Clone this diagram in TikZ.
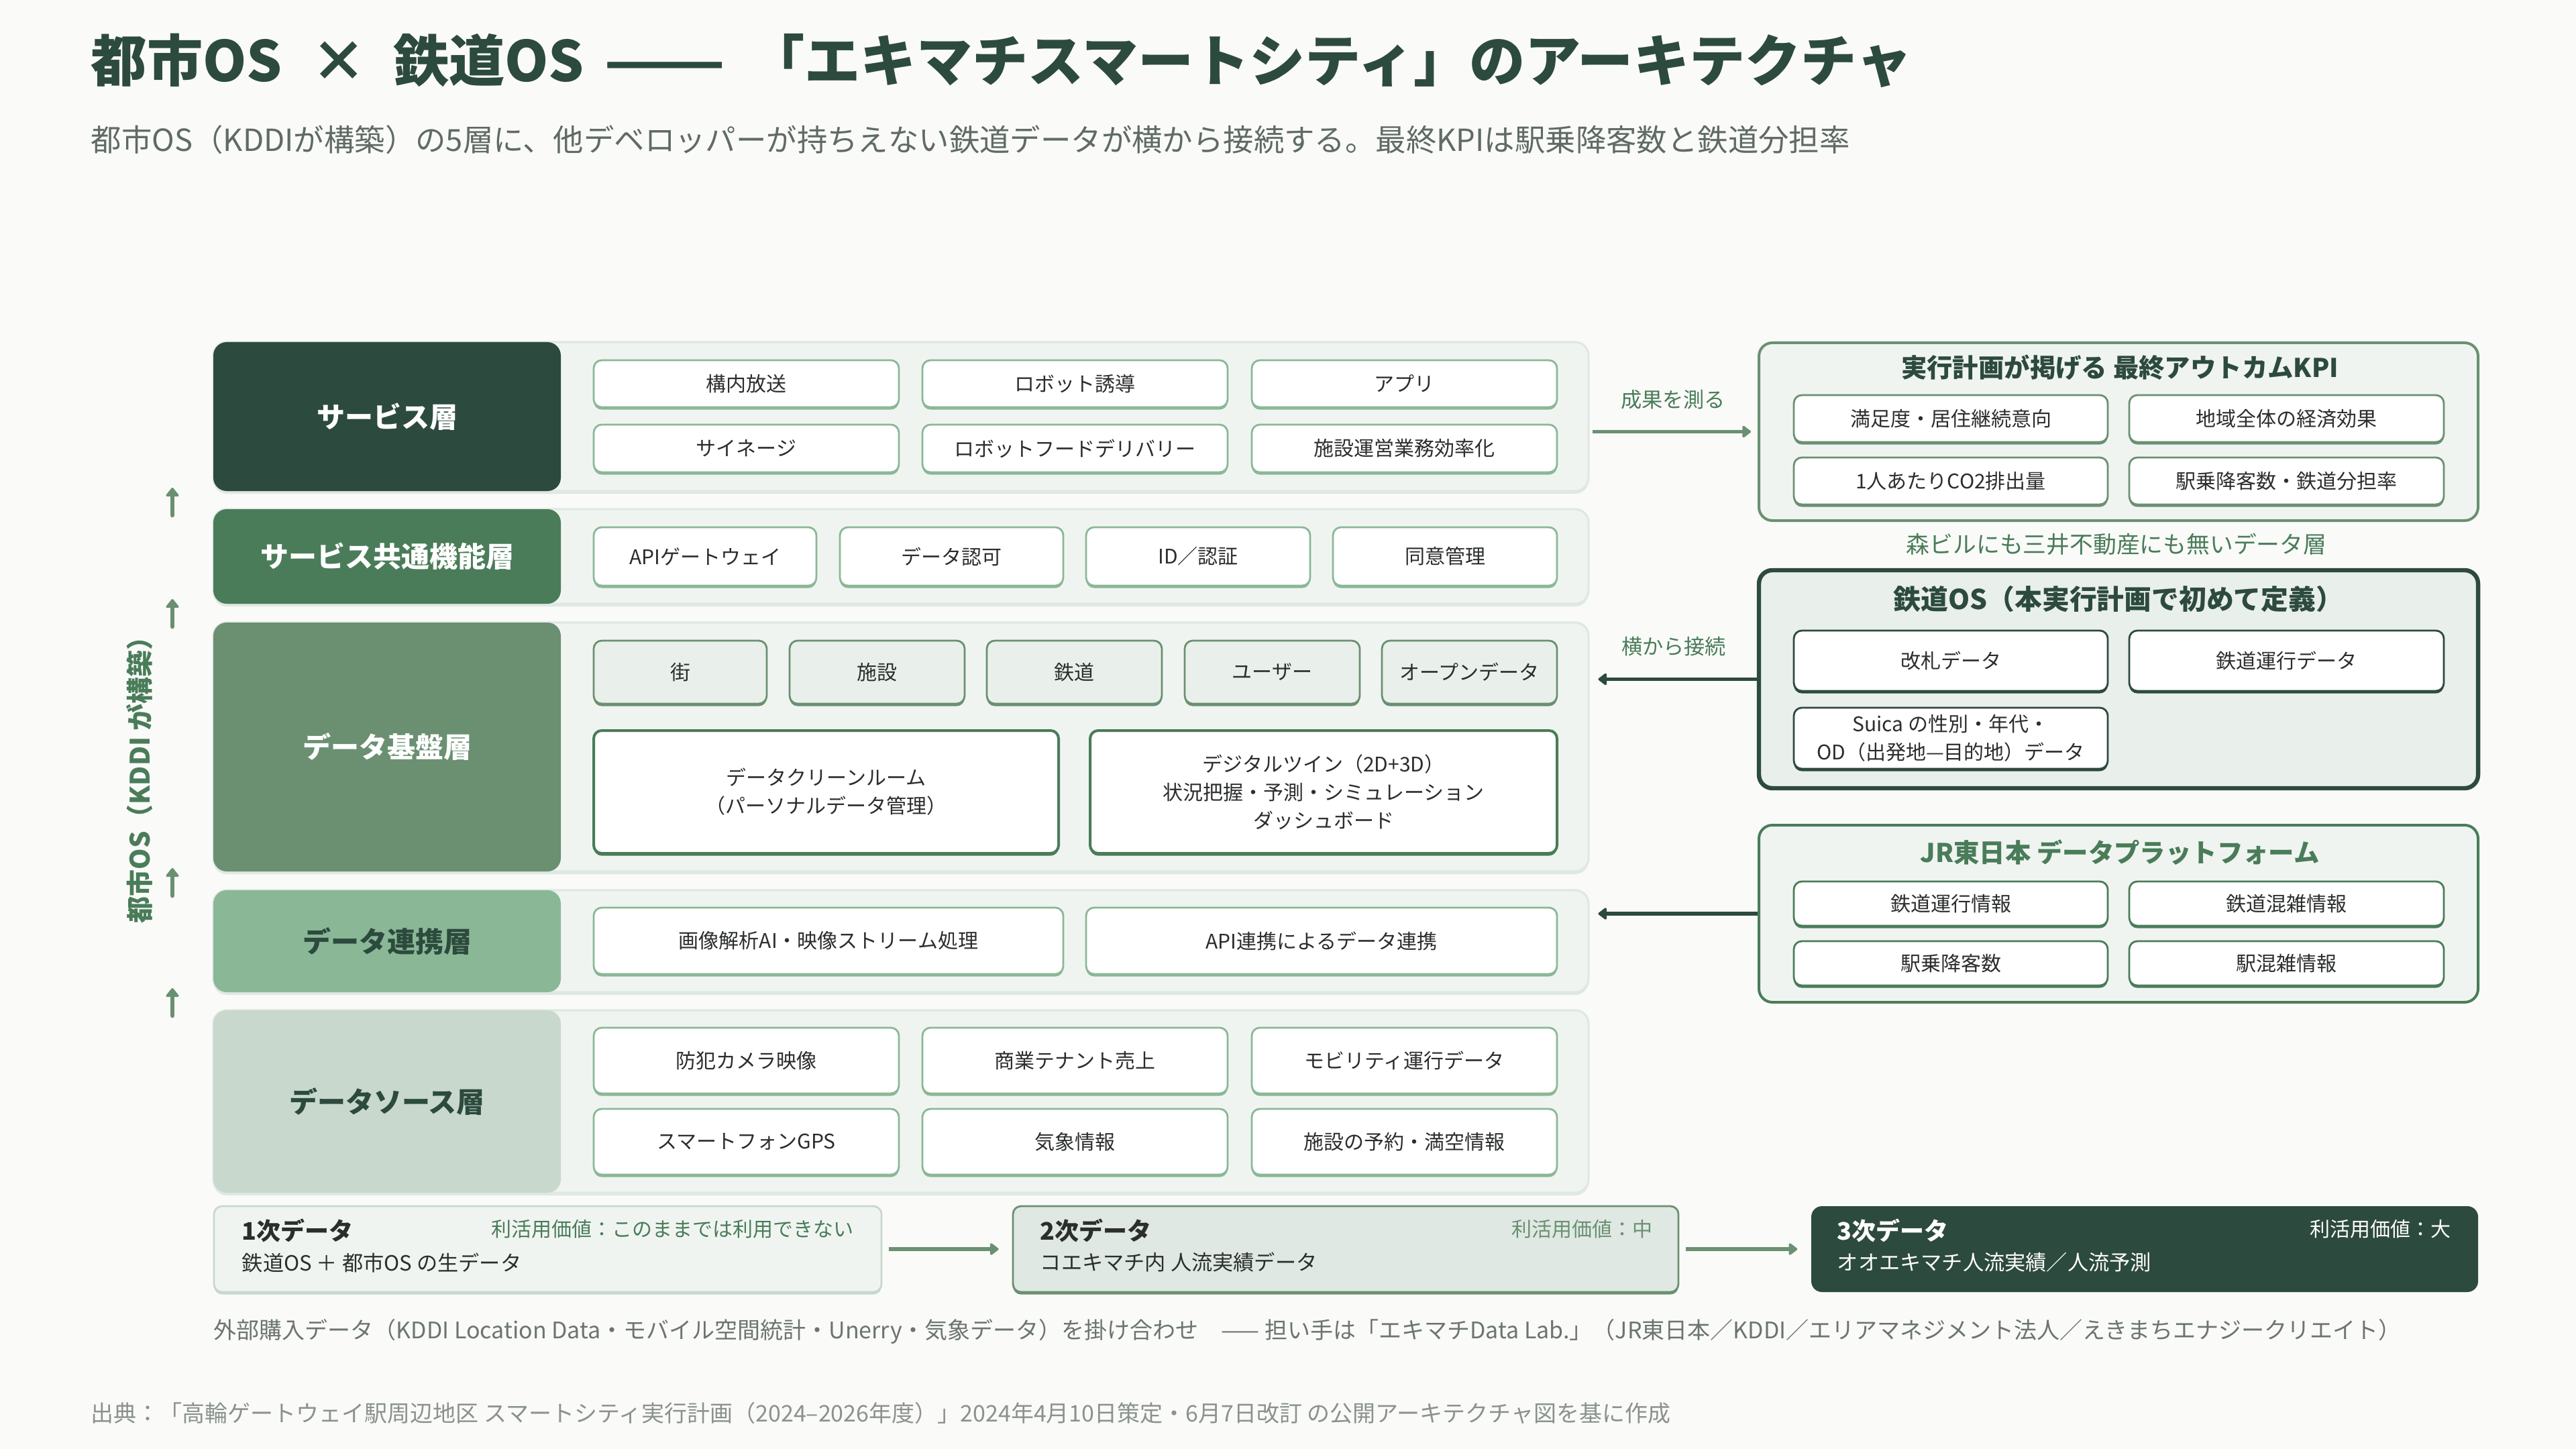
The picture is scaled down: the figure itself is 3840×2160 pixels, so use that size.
\documentclass[tikz,border=0pt]{standalone}
\usepackage{fontspec}
\usepackage{graphicx}
\setmainfont{Noto Sans CJK JP}
\usetikzlibrary{arrows.meta,shadows}
\definecolor{bgc}{HTML}{FAFAF9}
\definecolor{dk}{HTML}{2D4A3E}
\definecolor{md}{HTML}{4A7C59}
\definecolor{mdb}{HTML}{6A9071}
\definecolor{lt}{HTML}{8AB896}
\definecolor{pale}{HTML}{C8D8CC}
\definecolor{cfill}{HTML}{F0F4F1}
\definecolor{cline}{HTML}{DFE8E2}
\definecolor{tfill}{HTML}{E9EFEA}
\definecolor{txt}{HTML}{2B2E2C}
\definecolor{subc}{HTML}{5F6B63}
\definecolor{footc}{HTML}{6B756E}
\definecolor{footd}{HTML}{8A928C}
\newcommand\fsz[2]{\fontsize{#1}{#2}\selectfont}
\newcommand\mybox[7]{\node[#6, minimum width={(#4-#2)*0.25pt}, minimum height={(#5-#3)*0.25pt}] (#1) at ({(#2+#4)/2},{(#3+#5)/2}) {#7};}
\tikzset{
  chipbase/.style={rounded corners=3pt, line width=0.7pt, fill=white, inner sep=1pt, align=center, text=txt, font=\fsz{7.5}{10.5}},
  chipc/.style={chipbase, draw=#1, drop shadow={shadow xshift=0pt, shadow yshift=-0.9pt, fill=#1, opacity=1}},
  layerc/.style={draw=cline, line width=0.8pt, fill=cfill, rounded corners=5pt, drop shadow={shadow xshift=0pt, shadow yshift=-1pt, fill=cline, opacity=1}},
  labelbox/.style={rounded corners=5pt, fill=#1, font=\bfseries\fsz{10.5}{13}, inner sep=0pt},
  panel/.style={rounded corners=5pt, fill=cfill, draw=#1, line width=1pt},
  uparrow/.style={draw=mdb, line width=1.7pt, line cap=round, -{Triangle[width=5.5pt,length=3.6pt,round]}},
  rarrow/.style={draw=mdb, line width=1.3pt, -{Triangle[width=5pt,length=3.5pt,round]}},
  larrow/.style={draw=dk, line width=1.4pt, -{Triangle[width=5pt,length=3.5pt,round]}},
  sidelabel/.style={text=md, font=\fsz{7.8}{10}, inner sep=0pt},
  ptitle/.style={font=\bfseries\fsz{9.6}{12}, inner sep=0pt},
  dtitle/.style={font=\bfseries\fsz{9}{11}, inner sep=0pt, anchor=west},
  dsub/.style={font=\fsz{7.8}{10}, inner sep=0pt, anchor=west},
  dval/.style={font=\fsz{7.5}{10}, inner sep=0pt, anchor=east},
}
\begin{document}
\begin{tikzpicture}[x=0.25pt,y=-0.25pt]
\path[fill=bgc] (0,0) rectangle (3840,2160);
\useasboundingbox (0,0) rectangle (3840,2160);

% title
\node[anchor=west, inner sep=0pt, text=dk, font=\bfseries\fsz{20.8}{24}] (title) at (135,90) {都市OS\hspace{6pt} ×\hspace{5pt} 鉄道OS\hspace{2.5pt} \scalebox{1.27}[1]{——}\hspace{4pt} 「エキマチスマートシティ」のアーキテクチャ};
\node[anchor=west, inner sep=0pt, text=subc, font=\fsz{11.35}{14}] (subtitle) at (135,208) {都市OS（KDDIが構築）の5層に、他デベロッパーが持ちえない鉄道データが横から接続する。最終KPIは駅乗降客数と鉄道分担率};

% layer containers
\mybox{svcC}{318}{510}{2368}{732}{layerc}{}
\mybox{comC}{318}{759}{2368}{900}{layerc}{}
\mybox{baseC}{318}{928}{2368}{1299}{layerc}{}
\mybox{linkC}{318}{1327}{2368}{1479}{layerc}{}
\mybox{srcC}{318}{1506}{2368}{1778}{layerc}{}

% layer labels
\mybox{svcL}{318}{510}{836}{732}{labelbox=dk, text=white}{サービス層}
\mybox{comL}{318}{759}{836}{900}{labelbox=md, text=white}{サービス共通機能層}
\mybox{baseL}{318}{928}{836}{1299}{labelbox=mdb, text=white}{データ基盤層}
\mybox{linkL}{318}{1327}{836}{1479}{labelbox=lt, text=dk}{データ連携層}
\mybox{srcL}{318}{1506}{836}{1778}{labelbox=pale, text=dk}{データソース層}

% service chips
\mybox{s1}{885}{537}{1340}{607}{chipc=lt}{構内放送}
\mybox{s2}{1375}{537}{1830}{607}{chipc=lt}{ロボット誘導}
\mybox{s3}{1866}{537}{2321}{607}{chipc=lt}{アプリ}
\mybox{s4}{885}{633}{1340}{704}{chipc=lt}{サイネージ}
\mybox{s5}{1375}{633}{1830}{704}{chipc=lt}{ロボットフードデリバリー}
\mybox{s6}{1866}{633}{2321}{704}{chipc=lt}{施設運営業務効率化}

% common chips
\mybox{c1}{885}{786}{1217}{873}{chipc=lt}{APIゲートウェイ}
\mybox{c2}{1252}{786}{1585}{873}{chipc=lt}{データ認可}
\mybox{c3}{1619}{786}{1953}{873}{chipc=lt}{ID／認証}
\mybox{c4}{1987}{786}{2321}{873}{chipc=lt}{同意管理}

% base chips
\mybox{b1}{885}{955}{1143}{1049}{chipc=mdb, fill=tfill}{街}
\mybox{b2}{1177}{955}{1438}{1049}{chipc=mdb, fill=tfill}{施設}
\mybox{b3}{1471}{955}{1732}{1049}{chipc=mdb, fill=tfill}{鉄道}
\mybox{b4}{1766}{955}{2027}{1049}{chipc=mdb, fill=tfill}{ユーザー}
\mybox{b5}{2060}{955}{2321}{1049}{chipc=mdb, fill=tfill}{オープンデータ}
\mybox{b6}{885}{1089}{1578}{1272}{chipc=md, line width=1pt}{データクリーンルーム\\（パーソナルデータ管理）}
\mybox{b7}{1625}{1089}{2321}{1272}{chipc=md, line width=1pt}{デジタルツイン（2D+3D）\\状況把握・予測・シミュレーション\\ダッシュボード}

% link chips
\mybox{l1}{885}{1353}{1585}{1452}{chipc=lt}{画像解析AI・映像ストリーム処理}
\mybox{l2}{1619}{1353}{2321}{1452}{chipc=lt}{API連携によるデータ連携}

% source chips
\mybox{r1}{885}{1532}{1340}{1630}{chipc=lt}{防犯カメラ映像}
\mybox{r2}{1375}{1532}{1830}{1630}{chipc=lt}{商業テナント売上}
\mybox{r3}{1866}{1532}{2321}{1630}{chipc=lt}{モビリティ運行データ}
\mybox{r4}{885}{1653}{1340}{1751}{chipc=lt}{スマートフォンGPS}
\mybox{r5}{1375}{1653}{1830}{1751}{chipc=lt}{気象情報}
\mybox{r6}{1866}{1653}{2321}{1751}{chipc=lt}{施設の予約・満空情報}

% vertical label and up arrows
\node[rotate=90, text=md, font=\bfseries\fsz{10}{12}, inner sep=0pt] (cityos) at (208,1153) {都市OS（KDDI が構築）};
\coordinate (u1s) at (257,768); \coordinate (u1e) at (257,727);
\coordinate (u2s) at (257,934); \coordinate (u2e) at (257,893);
\coordinate (u3s) at (257,1335); \coordinate (u3e) at (257,1294);
\coordinate (u4s) at (257,1514); \coordinate (u4e) at (257,1473);
\draw[uparrow] (u1s) -- (u1e);
\draw[uparrow] (u2s) -- (u2e);
\draw[uparrow] (u3s) -- (u3e);
\draw[uparrow] (u4s) -- (u4e);

% KPI panel
\mybox{kpi}{2622}{511}{3694}{776}{panel=mdb}{}
\node[ptitle, text=dk] (kpiT) at (3160,548) {実行計画が掲げる 最終アウトカムKPI};
\mybox{k1}{2674}{589}{3142}{659}{chipc=mdb}{満足度・居住継続意向}
\mybox{k2}{3174}{589}{3643}{659}{chipc=mdb}{地域全体の経済効果}
\mybox{k3}{2674}{682}{3142}{752}{chipc=mdb}{1人あたりCO2排出量}
\mybox{k4}{3174}{682}{3643}{752}{chipc=mdb}{駅乗降客数・鉄道分担率}

\node[text=md, font=\fsz{8.7}{11}, inner sep=0pt] (mori) at (3155,811) {森ビルにも三井不動産にも無いデータ層};

% rail OS panel
\mybox{rail}{2622}{850}{3694}{1175}{panel=dk, fill=tfill, line width=1.6pt}{}
\node[ptitle, text=dk, font=\bfseries\fsz{10.2}{12}] (railT) at (3158,893) {鉄道OS（本実行計画で初めて定義）};
\mybox{o1}{2674}{940}{3142}{1030}{chipc=dk}{改札データ}
\mybox{o2}{3174}{940}{3643}{1030}{chipc=dk}{鉄道運行データ}
\mybox{o3}{2674}{1055}{3142}{1146}{chipc=dk}{Suica の性別・年代・\\OD（出発地—目的地）データ}

% JR panel
\mybox{jr}{2622}{1230}{3694}{1494}{panel=md}{}
\node[ptitle, text=md] (jrT) at (3160,1271) {JR東日本 データプラットフォーム};
\mybox{j1}{2674}{1314}{3142}{1380}{chipc=md}{鉄道運行情報}
\mybox{j2}{3174}{1314}{3643}{1380}{chipc=md}{鉄道混雑情報}
\mybox{j3}{2674}{1403}{3142}{1469}{chipc=md}{駅乗降客数}
\mybox{j4}{3174}{1403}{3643}{1469}{chipc=md}{駅混雑情報}

% side connectors
\draw[rarrow, shorten <=1pt, shorten >=2.5pt] (svcC.east |- kpi.west) -- (kpi.west);
\node[sidelabel] (lblA) at (2494,596) {成果を測る};
\draw[larrow, shorten >=3.2pt] (rail.west) -- (baseC.east |- rail.west);
\node[sidelabel] (lblB) at (2495,964) {横から接続};
\draw[larrow, shorten >=3.2pt] (jr.west) -- (linkC.east |- jr.west);

% data value chain
\mybox{d1}{319}{1798}{1314}{1926}{chipc=pale, fill=cfill}{}
\mybox{d2}{1510}{1798}{2502}{1926}{chipc=mdb, fill=cline}{}
\mybox{d3}{2700}{1798}{3694}{1926}{rounded corners=4pt, fill=dk}{}
\node[dtitle, text=txt] (d1t) at (360,1834) {1次データ};
\node[dval, text=md] (d1v) at (1273,1832) {利活用価値：このままでは利用できない};
\node[dsub, text=txt] (d1s) at (360,1882) {鉄道OS ＋ 都市OS の生データ};
\node[dtitle, text=txt] (d2t) at (1550,1834) {2次データ};
\node[dval, text=mdb] (d2v) at (2464,1832) {利活用価値：中};
\node[dsub, text=txt] (d2s) at (1550,1882) {コエキマチ内 人流実績データ};
\node[dtitle, text=white] (d3t) at (2738,1834) {3次データ};
\node[dval, text=white] (d3v) at (3654,1832) {利活用価値：大};
\node[dsub, text=white] (d3s) at (2738,1882) {オオエキマチ人流実績／人流予測};
\draw[rarrow, line width=1.5pt, shorten <=2.5pt, shorten >=5pt] (d1.east) -- (d2.west);
\draw[rarrow, line width=1.5pt, shorten <=2.5pt, shorten >=5pt] (d2.east) -- (d3.west);

% footers
\node[anchor=west, inner sep=0pt, text=footc, font=\fsz{8.5}{10}] (foot1) at (318,1985) {外部購入データ（KDDI Location Data・モバイル空間統計・Unerry・気象データ）を掛け合わせ\quad —— 担い手は「エキマチData Lab.」（JR東日本／KDDI／エリアマネジメント法人／えきまちエナジークリエイト）};
\node[anchor=west, inner sep=0pt, text=footd, font=\fsz{8.5}{10}] (foot2) at (135,2107) {出典：「高輪ゲートウェイ駅周辺地区 スマートシティ実行計画（2024–2026年度）」2024年4月10日策定・6月7日改訂 の公開アーキテクチャ図を基に作成};
\end{tikzpicture}
\end{document}
